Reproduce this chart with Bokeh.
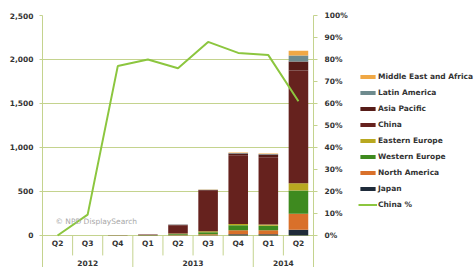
from bokeh.plotting import figure
from bokeh.layouts import row
from bokeh.models import (ColumnDataSource, Range1d, LinearAxis, FixedTicker,
                          NumeralTickFormatter, PrintfTickFormatter, Legend,
                          LegendItem, Label)
from bokeh.embed import file_html
from bokeh.resources import INLINE
from bokeh.core.properties import value

# ---------------- data ----------------
quarters = ["Q2", "Q3", "Q4", "Q1", "Q2", "Q3", "Q4", "Q1", "Q2"]
years = ["2012", "2012", "2012", "2013", "2013", "2013", "2013", "2014", "2014"]

japan = [0, 0.1, 0.2, 0.2, 2, 3, 15, 15, 64]
north_america = [0.2, 0.3, 0.3, 0.5, 5, 10, 45, 45, 182]
western_europe = [0.2, 0.3, 0.2, 1, 10, 25, 55, 50, 265]
eastern_europe = [0.05, 0.1, 0.1, 0.3, 5, 10, 15, 15, 83]
china = [0, 0.1, 2.3, 8, 95, 460, 783, 764, 1280]
asia_pacific = [0.05, 0.1, 0.1, 0.2, 5, 10, 20, 30, 103]
latin_america = [0, 0, 0, 0, 2, 3, 5, 7, 68]
middle_east_africa = [0, 0, 0, 0, 1, 2, 5, 6, 55]
china_pct = [0, 9.5, 77, 80, 76, 88, 83, 82, 61]

left_ticks = [0, 500, 1000, 1500, 2000, 2500]
right_ticks = [0, 10, 20, 30, 40, 50, 60, 70, 80, 90, 100]

series_names = ["Japan", "North America", "Western Europe", "Eastern Europe",
                "China", "Asia Pacific", "Latin America", "Middle East and Africa"]
series_values = [japan, north_america, western_europe, eastern_europe,
                 china, asia_pacific, latin_america, middle_east_africa]
series_colors = ["#1F2B3A", "#D9702A", "#3E8A1F", "#B8A820",
                 "#66221E", "#561C18", "#6E8B8E", "#F0A845"]
line_name = "China %"
line_color = "#8CC63F"

# ---------------- layout ----------------
Y_BOTTOM = -364
PCT_BOTTOM = -14.55
GRID = "#C4D38E"
TXT = "#333333"
FONT = "DejaVu Sans"
FS = "7.5px"

n = len(quarters)
xs = [i + 0.5 for i in range(n)]

data = {"x": xs}
keys = []
for i, (nm, vals) in enumerate(zip(series_names, series_values)):
    k = "s%d" % i
    keys.append(k)
    data[k] = vals
data["pct"] = china_pct
src = ColumnDataSource(data)

p = figure(width=350, height=267, min_border_left=42, min_border_top=15,
           min_border_bottom=0, min_border_right=34,
           x_range=Range1d(0, n), y_range=Range1d(Y_BOTTOM, left_ticks[-1]),
           x_axis_location=None, output_backend="svg", toolbar_location=None)
p.outline_line_color = None
p.background_fill_color = "white"
p.border_fill_color = "white"

p.xgrid.visible = False
p.ygrid.ticker = FixedTicker(ticks=left_ticks)
p.ygrid.grid_line_color = GRID
p.ygrid.grid_line_width = 1

ya = p.yaxis[0]
ya.ticker = FixedTicker(ticks=left_ticks)
ya.formatter = NumeralTickFormatter(format="0,0")
ya.axis_line_color = GRID
ya.major_tick_line_color = GRID
ya.major_tick_out = 3
ya.major_tick_in = 0
ya.minor_tick_line_color = None
ya.major_label_standoff = 6
ya.major_label_text_font = FONT
ya.major_label_text_font_style = "bold"
ya.major_label_text_font_size = FS
ya.major_label_text_color = TXT

p.extra_y_ranges = {"pct": Range1d(PCT_BOTTOM, 100)}
ra = LinearAxis(y_range_name="pct", ticker=FixedTicker(ticks=right_ticks),
                formatter=PrintfTickFormatter(format="%d%%"))
ra.axis_line_color = GRID
ra.major_tick_line_color = GRID
ra.major_tick_out = 4
ra.major_tick_in = 0
ra.minor_tick_line_color = None
ra.major_label_standoff = 7
ra.major_label_text_font = FONT
ra.major_label_text_font_style = "bold"
ra.major_label_text_font_size = FS
ra.major_label_text_color = TXT
p.add_layout(ra, "right")

# stacked bars
bars = p.vbar_stack(keys, x="x", width=0.65, source=src, color=series_colors,
                    line_color=None)

# China % line
ln = p.line("x", "pct", source=src, y_range_name="pct", line_color=line_color,
            line_width=2)

# category separators
minor_b, major_b = [], []
for i in range(1, n):
    (major_b if years[i] != years[i - 1] else minor_b).append(i)
p.segment(x0=minor_b, y0=[0] * len(minor_b), x1=minor_b,
          y1=[-227] * len(minor_b), line_color=GRID, line_width=1)
p.segment(x0=major_b, y0=[0] * len(major_b), x1=major_b,
          y1=[Y_BOTTOM] * len(major_b), line_color=GRID, line_width=1)

# category labels
p.text(x=xs, y=[-95] * n, text=quarters, text_font=value(FONT),
       text_font_style="bold", text_font_size=value(FS), text_color=TXT,
       text_align="center", text_baseline="middle")
uniq = []
for y in years:
    if y not in uniq:
        uniq.append(y)
ycent = [sum(x for x, yy in zip(xs, years) if yy == u) /
         sum(1 for yy in years if yy == u) for u in uniq]
p.text(x=ycent, y=[-310] * len(uniq), text=uniq, text_font=value(FONT),
       text_font_style="bold", text_font_size=value(FS), text_color=TXT,
       text_align="center", text_baseline="middle")

# watermark
p.add_layout(Label(x=0.43, y=159, text="© NPD DisplaySearch", text_font=FONT,
                   text_font_size=FS, text_color="#A8A8A8",
                   text_baseline="middle"))

# ---------------- legend panel (separate figure) ----------------
q = figure(width=126, height=267, min_border=0, x_range=Range1d(0, 1),
           y_range=Range1d(0, 1), x_axis_location=None, y_axis_location=None,
           output_backend="svg", toolbar_location=None)
q.outline_line_color = None
q.grid.visible = False
q.background_fill_color = "white"
q.border_fill_color = "white"

# proxy renderers placed outside the visible range, only for legend swatches
items = []
for i in range(len(series_names) - 1, -1, -1):
    r = q.vbar(x=[-5], top=[-5], bottom=[-6], width=0.5,
               color=series_colors[i], line_color=None)
    items.append(LegendItem(label=series_names[i], renderers=[r]))
rl = q.line(x=[-6, -5], y=[-5, -5], line_color=line_color, line_width=2)
items.append(LegendItem(label=line_name, renderers=[rl]))

leg = Legend(items=items, location=(8, 58), orientation="vertical",
             glyph_width=19, glyph_height=5, label_height=10, spacing=6,
             label_standoff=1, padding=0, margin=0,
             border_line_color=None, background_fill_alpha=0,
             label_text_font=FONT, label_text_font_style="bold",
             label_text_font_size=FS, label_text_color=TXT)
q.add_layout(leg)

layout = row(p, q)
open("out.html", "w").write(file_html(layout, INLINE))
